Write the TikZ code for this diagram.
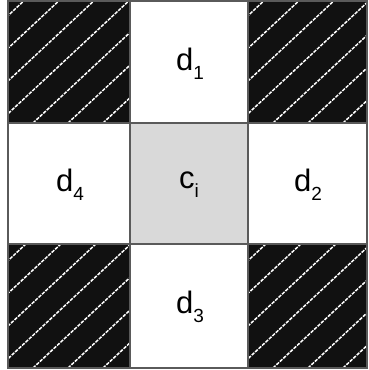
\documentclass[tikz,border=0pt]{standalone}
\usepackage{fontspec}
\setmainfont{Liberation Sans}
\usetikzlibrary{positioning}
\definecolor{preto}{HTML}{111111}
\definecolor{cinza}{HTML}{D9D9D9}
\definecolor{borda}{HTML}{5A5A5A}
\newcommand{\indice}[1]{\raisebox{-0.28em}{\fontsize{19}{19}\selectfont #1}}
\newcommand{\hachura}[4]{%
  \begin{scope}
    \clip (#1,#2) rectangle (#3,#4);
    \fill[preto] (#1,#2) rectangle (#3,#4);
    \foreach \k in {-150,-115,...,150}
      \draw[white,line width=1.5pt,dash pattern=on 3.5pt off 1.2pt] (#1+\k,#2) -- ++(150,140);
  \end{scope}}

\begin{document}
\begin{tikzpicture}[x=1pt,y=1pt,
    rotulo/.style={font=\fontsize{31}{34}\selectfont,inner sep=0pt}]
  \useasboundingbox (0,0) rectangle (368,370);
  % cantos hachurados
  \hachura{8}{247}{130}{369}
  \hachura{248}{247}{367}{369}
  \hachura{8}{2}{130}{126}
  \hachura{248}{2}{367}{126}
  % celula central
  \fill[cinza] (130,126) rectangle (248,247);
  \begin{scope}[borda,line width=1.2pt]
    \draw (8,2) rectangle (367,369);
    \draw (130,2) -- (130,369);
    \draw (248,2) -- (248,369);
    \draw (8,126) -- (367,126);
    \draw (8,247) -- (367,247);
  \end{scope}
  \node[rotulo] (d1) at (190,306) {d\indice{1}};
  \node[rotulo] (d4) at (70,185) {d\indice{4}};
  \node[rotulo] (ci) at (189,185) {c\indice{i}};
  \node[rotulo] (d2) at (308,185) {d\indice{2}};
  \node[rotulo] (d3) at (190,63) {d\indice{3}};
\end{tikzpicture}
\end{document}
